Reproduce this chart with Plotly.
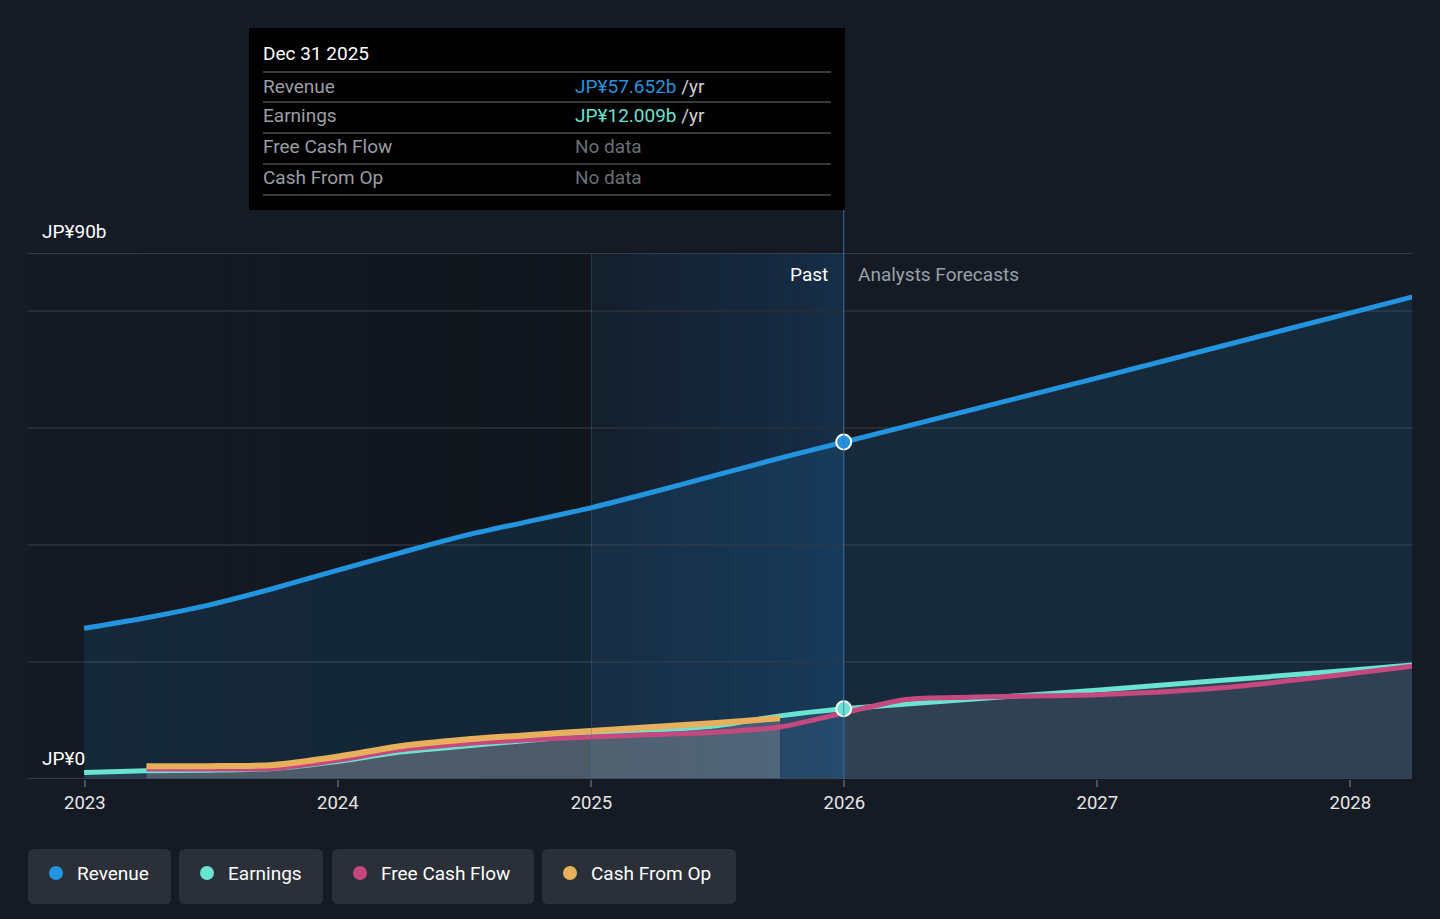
import plotly.graph_objects as go
import pandas as pd

# ---------------- data (JP¥ billions) ----------------
past_dates = ["2022-12-31", "2023-03-31", "2023-06-30", "2023-09-30", "2023-12-31",
              "2024-03-31", "2024-06-30", "2024-09-30", "2024-12-31",
              "2025-03-31", "2025-06-30", "2025-09-30", "2025-12-31"]
revenue_past = [25.8, 27.6, 29.8, 32.6, 35.7, 38.7, 41.6, 44.0, 46.4, 49.1, 52.0, 54.9, 57.652]
earnings_past = [1.1, 1.4, 1.5, 1.8, 3.0, 4.6, 5.6, 6.6, 7.5, 8.3, 9.1, 10.8, 12.009]

cash_dates = ["2023-03-31", "2023-06-30", "2023-09-30", "2023-12-31",
              "2024-03-31", "2024-06-30", "2024-09-30", "2024-12-31",
              "2025-03-31", "2025-06-30", "2025-09-30"]
fcf_past = [1.7, 1.7, 1.8, 3.2, 5.0, 6.0, 6.7, 7.2, 7.6, 8.0, 8.9]
cfo_past = [2.2, 2.2, 2.4, 3.8, 5.6, 6.7, 7.5, 8.2, 8.9, 9.6, 10.4]

fc_dates = ["2025-12-31", "2026-12-31", "2027-12-31", "2028-03-31"]
revenue_fc = [57.652, 68.6, 79.7, 82.5]
earnings_fc = [12.009, 15.2, 18.6, 19.5]

fcf_fc_dates = ["2026-03-31", "2026-06-30", "2026-12-31", "2027-06-30", "2027-12-31", "2028-03-31"]
fcf_fc = [13.6, 14.0, 14.4, 15.6, 18.0, 19.3]

series_names = ["Revenue", "Earnings", "Free Cash Flow", "Cash From Op"]
series_colors = ["#2394df", "#6ae3d0", "#c5487f", "#e8b05c"]
year_ticks = ["2023-01-01", "2024-01-01", "2025-01-01", "2026-01-01", "2027-01-01", "2028-01-01"]
year_labels = ["2023", "2024", "2025", "2026", "2027", "2028"]
y_top = 90
tooltip_date = "Dec 31 2025"

FONT = "Roboto"
BG = "#151b24"
FS = 19

# layout helpers: pixel -> paper
L, R, T, B = 28, 1412, 253, 779
def X(px):
    return (px - L) / (R - L)
def Y(py):
    return (B - py) / (B - T)

rev_dates = past_dates + fc_dates[1:]
rev_vals = revenue_past + revenue_fc[1:]
earn_dates = past_dates + fc_dates[1:]
earn_vals = earnings_past + earnings_fc[1:]
fcf_dates_all = cash_dates + fcf_fc_dates
fcf_vals_all = fcf_past + fcf_fc

fig = go.Figure()
SM = 0.7
LW = 5

# revenue area + line
fig.add_trace(go.Scatter(x=rev_dates, y=rev_vals, mode="lines", fill="tozeroy",
                         fillcolor="rgba(35,148,223,0.13)",
                         line=dict(color=series_colors[0], width=LW, shape="spline", smoothing=SM),
                         hoverinfo="skip", showlegend=False))
# earnings fills
fig.add_trace(go.Scatter(x=past_dates, y=earnings_past, mode="none", fill="tozeroy",
                         fillcolor="rgba(120,160,210,0.16)",
                         line=dict(shape="spline", smoothing=SM), hoverinfo="skip", showlegend=False))
fig.add_trace(go.Scatter(x=fc_dates, y=earnings_fc, mode="none", fill="tozeroy",
                         fillcolor="rgba(150,160,180,0.20)",
                         line=dict(shape="spline", smoothing=SM), hoverinfo="skip", showlegend=False))
# cash fills (past)
fig.add_trace(go.Scatter(x=cash_dates, y=cfo_past, mode="none", fill="tozeroy",
                         fillcolor="rgba(200,185,165,0.20)",
                         line=dict(shape="spline", smoothing=SM), hoverinfo="skip", showlegend=False))
fig.add_trace(go.Scatter(x=cash_dates, y=fcf_past, mode="none", fill="tozeroy",
                         fillcolor="rgba(200,200,200,0.08)",
                         line=dict(shape="spline", smoothing=SM), hoverinfo="skip", showlegend=False))
# lines
fig.add_trace(go.Scatter(x=earn_dates, y=earn_vals, mode="lines",
                         line=dict(color=series_colors[1], width=LW, shape="spline", smoothing=SM),
                         hoverinfo="skip", showlegend=False))
fig.add_trace(go.Scatter(x=fcf_dates_all, y=fcf_vals_all, mode="lines",
                         line=dict(color=series_colors[2], width=LW, shape="spline", smoothing=SM),
                         hoverinfo="skip", showlegend=False))
fig.add_trace(go.Scatter(x=cash_dates, y=cfo_past, mode="lines",
                         line=dict(color=series_colors[3], width=LW + 1, shape="spline", smoothing=SM),
                         hoverinfo="skip", showlegend=False))
# highlighted markers at Dec 31 2025
fig.add_trace(go.Scatter(x=[past_dates[-1]], y=[revenue_past[-1]], mode="markers",
                         marker=dict(size=15, color=series_colors[0], line=dict(color="white", width=2)),
                         hoverinfo="skip", showlegend=False))
fig.add_trace(go.Scatter(x=[past_dates[-1]], y=[earnings_past[-1]], mode="markers",
                         marker=dict(size=15, color=series_colors[1], line=dict(color="white", width=2)),
                         hoverinfo="skip", showlegend=False))

shapes = []
# darker left region gradient (before 2025)
left_start = pd.Timestamp("2022-10-11")
p_start = pd.Timestamp("2025-01-01")
p_end = pd.Timestamp("2025-12-31")
n = 20
for i in range(n):
    a = left_start + (p_start - left_start) * i / n
    b = left_start + (p_start - left_start) * (i + 1) / n
    shapes.append(dict(type="rect", xref="x", yref="paper", x0=a, x1=b, y0=0, y1=1,
                       fillcolor=f"rgba(0,0,0,{0.02 + 0.16 * i / n:.3f})", line=dict(width=0), layer="below"))
# past highlight gradient
for i in range(n):
    a = p_start + (p_end - p_start) * i / n
    b = p_start + (p_end - p_start) * (i + 1) / n
    shapes.append(dict(type="rect", xref="x", yref="paper", x0=a, x1=b, y0=0, y1=1,
                       fillcolor=f"rgba(25,100,170,{0.06 + 0.20 * (i + 1) / n:.3f})",
                       line=dict(width=0), layer="below"))
# axis lines top/bottom
shapes.append(dict(type="line", xref="paper", yref="y", x0=0, x1=1, y0=0, y1=0,
                   line=dict(color="#3f4550", width=1.5)))
shapes.append(dict(type="line", xref="paper", yref="y", x0=0, x1=1, y0=y_top, y1=y_top,
                   line=dict(color="#3f4550", width=1.5)))
# vertical line at 2025
shapes.append(dict(type="line", xref="x", yref="paper", x0=p_start, x1=p_start, y0=0, y1=1,
                   line=dict(color="rgba(70,120,170,0.35)", width=1)))
# tooltip box + connector
shapes.append(dict(type="line", xref="x", yref="paper", x0=p_end, x1=p_end, y0=0, y1=Y(210),
                   line=dict(color="rgba(60,120,180,0.6)", width=1.5), layer="above"))
shapes.append(dict(type="rect", xref="paper", yref="paper", x0=X(249), x1=X(845), y0=Y(210), y1=Y(28),
                   fillcolor="#000000", line=dict(width=0), layer="above"))
for py in [72, 102, 133, 164, 195]:
    shapes.append(dict(type="line", xref="paper", yref="paper", x0=X(263), x1=X(831), y0=Y(py), y1=Y(py),
                       line=dict(color="#4a4d52", width=1.5), layer="above"))

annotations = []
def txt(text, px, py, size=FS, color="#ffffff", anchor="left"):
    annotations.append(dict(text=text, x=X(px), y=Y(py), xref="paper", yref="paper",
                            xanchor=anchor, yanchor="middle", showarrow=False,
                            xshift=-2 if anchor == "left" else 2,
                            font=dict(family=FONT, size=size, color=color)))

txt(tooltip_date, 263, 54, FS, "#ffffff")
rows_y = [86, 116, 147, 177]
vals = [f"<span style='color:{series_colors[0]}'>JP¥{revenue_past[-1]:.3f}b</span> <span style='color:#d0d0d0'>/yr</span>",
        f"<span style='color:{series_colors[1]}'>JP¥{earnings_past[-1]:.3f}b</span> <span style='color:#d0d0d0'>/yr</span>",
        "<span style='color:#6b6f76'>No data</span>",
        "<span style='color:#6b6f76'>No data</span>"]
for name, py, v in zip(series_names, rows_y, vals):
    txt(name, 263, py, FS, "#9a9ea5")
    txt(v, 575, py, FS)

txt(f"JP¥{y_top}b", 42, 231, FS, "#ffffff")
txt("JP¥0", 42, 758, FS, "#ffffff")
txt("Past", 828, 274, FS, "#ffffff", anchor="right")
txt("Analysts Forecasts", 858, 274, FS, "#9ba0a8")

# legend boxes
boxes = [(28, 171), (179, 323), (332, 534), (542, 736)]
def rrect(x0, x1, y0, y1, r=6):
    rx = r / (R - L)
    ry = r / (B - T)
    a0, a1, b0, b1 = X(x0), X(x1), Y(y1), Y(y0)
    return (f"M {a0+rx},{b0} L {a1-rx},{b0} Q {a1},{b0} {a1},{b0+ry} L {a1},{b1-ry} "
            f"Q {a1},{b1} {a1-rx},{b1} L {a0+rx},{b1} Q {a0},{b1} {a0},{b1-ry} "
            f"L {a0},{b0+ry} Q {a0},{b0} {a0+rx},{b0} Z")
for (x0, x1), name, col in zip(boxes, series_names, series_colors):
    shapes.append(dict(type="path", xref="paper", yref="paper", path=rrect(x0, x1, 849, 904),
                       fillcolor="#2a2f38", line=dict(width=0)))
    cx, cy, r = x0 + 28, 873, 7
    shapes.append(dict(type="circle", xref="paper", yref="paper",
                       x0=X(cx - r), x1=X(cx + r), y0=Y(cy + r), y1=Y(cy - r),
                       fillcolor=col, line=dict(width=0)))
    txt(name, x0 + 49, 873, FS, "#ffffff")

fig.update_layout(
    width=1440, height=919,
    margin=dict(l=L, r=1440 - R, t=T, b=919 - B),
    paper_bgcolor=BG, plot_bgcolor=BG,
    shapes=shapes, annotations=annotations,
    showlegend=False,
    xaxis=dict(type="date", range=["2022-10-11", "2028-03-30"],
               tickvals=year_ticks, ticktext=year_labels,
               showgrid=False, zeroline=False, showline=False,
               ticks="outside", ticklen=7, tickcolor="#4a505a", tickwidth=1.5,
               tickfont=dict(family=FONT, size=18.5, color="#e6e6e6")),
    yaxis=dict(range=[0, y_top], tickvals=[0, 20, 40, 60, 80, 90], showticklabels=False,
               showgrid=True, gridcolor="#262c36", gridwidth=1.5, zeroline=False, showline=False),
    hovermode=False,
)

fig.write_html("out.html", config={"displayModeBar": False},
               post_script="document.body.style.margin='0';document.body.style.background='#151b24';")
